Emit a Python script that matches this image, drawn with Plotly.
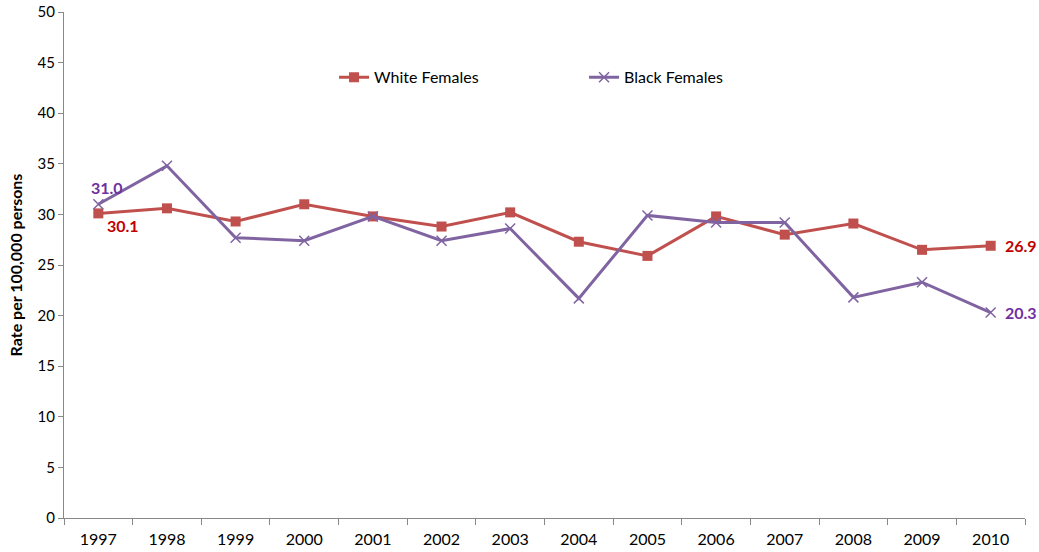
import plotly.graph_objects as go

years = ["1997", "1998", "1999", "2000", "2001", "2002", "2003",
         "2004", "2005", "2006", "2007", "2008", "2009", "2010"]
white_females = [30.1, 30.6, 29.3, 31.0, 29.8, 28.8, 30.2,
                 27.3, 25.9, 29.8, 28.0, 29.1, 26.5, 26.9]
black_females = [31.0, 34.8, 27.7, 27.4, 29.8, 27.4, 28.6,
                 21.7, 29.9, 29.2, 29.2, 21.8, 23.3, 20.3]

red = "#C0504D"
purple = "#8064A2"
font = "Lato, 'Open Sans', sans-serif"

fig = go.Figure()
fig.add_trace(go.Scatter(
    x=years, y=white_females, name="White Females", mode="lines+markers",
    line=dict(color=red, width=3),
    marker=dict(symbol="square", size=10, color=red),
))
fig.add_trace(go.Scatter(
    x=years, y=black_females, name="Black Females", mode="lines+markers",
    line=dict(color=purple, width=3),
    marker=dict(symbol="x-thin", size=10, line=dict(color=purple, width=1.5)),
))

# data labels at first and last points (category index positions)
first, last = 0, len(years) - 1
labels = [
    (first, black_females[first], "#7030A0", 9, 17),
    (first, white_females[first], "#C00000", 25, -12),
    (last, white_females[last], "#C00000", 30, 0),
    (last, black_females[last], "#7030A0", 30, 0),
]
for x, y, c, dx, dy in labels:
    fig.add_annotation(x=x, y=y, text="<b>%.1f</b>" % y, showarrow=False,
                       xshift=dx, yshift=dy, font=dict(size=16, color=c, family=font))

fig.update_layout(
    width=1039, height=552,
    margin=dict(l=64, r=14, t=12, b=34),
    plot_bgcolor="white", paper_bgcolor="white",
    font=dict(family=font, size=14, color="black"),
    showlegend=True,
    legend=dict(orientation="h", x=0.281, y=0.871, xanchor="left", yanchor="middle",
                entrywidth=205, font=dict(size=16), bgcolor="rgba(0,0,0,0)"),
    xaxis=dict(type="category", range=[-0.5, len(years) - 0.5],
               showline=True, linecolor="#888888", linewidth=1,
               ticks="outside", ticklen=6, tickcolor="#888888", tickangle=0,
               tickson="boundaries", showgrid=False, tickfont=dict(size=16),
               ticklabelstandoff=7, ticklabeloverflow="allow", automargin=False),
    yaxis=dict(range=[0, 50], dtick=5, showline=True, linecolor="#888888",
               linewidth=1, ticks="outside", ticklen=5, tickcolor="#888888",
               showgrid=False, zeroline=False, tickfont=dict(size=15),
               ticklabeloverflow="allow", automargin=False,
               title=dict(text="<b>Rate per 100,000 persons</b>",
                          font=dict(size=16), standoff=10)),
)

# drop the default page margin so the figure fills the window exactly
fig.write_html("out.html", config={"displayModeBar": False},
               post_script="document.body.style.margin='0';"
                           "document.body.style.overflow='hidden';")
